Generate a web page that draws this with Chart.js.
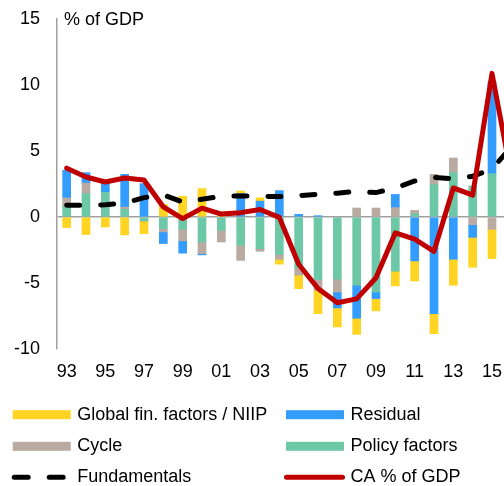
<!DOCTYPE html>
<html><head><meta charset="utf-8">
<script src="https://cdn.jsdelivr.net/npm/chart.js@4.4.1/dist/chart.umd.min.js"></script>
<style>
html,body{margin:0;padding:0;overflow:hidden;background:#fff;width:504px;height:486px;}
#wrap{position:absolute;left:0;top:0;width:521px;height:486px;}
canvas{display:block;}
</style></head><body>
<div id="wrap"><canvas id="c" width="521" height="486" style="width:521px;height:486px"></canvas></div>
<script>
// Categories (1993-2016; the 2016 point is cut off at the right edge of the picture)
const years = ['93','94','95','96','97','98','99','00','01','02','03','04','05','06','07','08','09','10','11','12','13','14','15','16'];
const yTicks = [-10, -5, 0, 5, 10, 15];

// Series values, % of GDP
const globalFin = [-0.8,-1.33,-0.76,-1.36,-0.96,0.96,1.57,2.15,0.4,0.2,0.25,-0.36,-1.03,-1.77,-1.44,-1.22,-0.93,-1.11,-1.52,-1.52,-1.97,-2.27,-2.22,null];
const residual  = [2.1,0.79,0.7,2.48,2.53,-0.88,-0.93,-0.1,0,1.77,1.2,2.0,0.2,0.1,-1.21,-2.5,-0.5,1.0,-3.33,-7.32,-3.2,-0.96,7.0,null];
const cycle     = [0.61,0.8,0,0.17,0,-0.25,-0.88,-0.88,-0.88,-1.14,-0.2,-0.38,-0.55,-0.8,-0.96,0.68,0.68,0.71,0.25,0.78,1.11,-0.58,-0.93,null];
const policy    = [0.83,1.77,1.85,0.58,-0.3,-0.88,-0.93,-1.89,-1.0,-2.15,-2.4,-2.83,-3.85,-4.75,-4.72,-5.17,-5.68,-4.11,0.25,2.45,3.36,2.35,3.28,null];
const fundamentals = [0.89,0.9,0.92,1.06,1.47,1.68,1.14,1.34,1.57,1.59,1.57,1.55,1.62,1.72,1.8,1.95,1.85,2.2,2.73,3.0,2.9,3.08,3.65,5.3];
const caGdp     = [3.7,3.03,2.65,2.95,2.8,0.76,-0.12,0.67,0.22,0.33,0.57,-0.03,-3.58,-5.42,-6.5,-6.2,-4.6,-1.2,-1.68,-2.6,2.2,1.66,10.88,3.1];

const legendOrder = ['Global fin. factors / NIIP','Residual','Cycle','Policy factors','Fundamentals','CA % of GDP'];

const FONT = "'Liberation Sans', Arial, sans-serif";
const AXIS_GREY = '#a0a0a0';

const overlayPlugin = {
  id: 'overlay',
  afterDraw(chart) {
    const ctx = chart.ctx;
    ctx.save();
    // axis title inside the plot
    ctx.fillStyle = '#000';
    ctx.font = '18px ' + FONT;
    ctx.textBaseline = 'middle';
    ctx.textAlign = 'left';
    ctx.fillText('% of GDP', 64, 20);

    // legend in two columns
    const colX = [12.7, 286];
    const rowY = [414.7, 446.3, 477.3];
    legendOrder.forEach((name, i) => {
      const ds = chart.data.datasets.find(d => d.label === name);
      const x = colX[i % 2];
      const y = rowY[Math.floor(i / 2)];
      if (ds.type === 'line') {
        ctx.strokeStyle = ds.borderColor;
        ctx.lineWidth = 5;
        ctx.lineCap = 'round';
        ctx.beginPath();
        if (ds.borderDash) {
          ctx.moveTo(x + 1.5, y); ctx.lineTo(x + 15.5, y);
          ctx.moveTo(x + 36.5, y); ctx.lineTo(x + 50.5, y);
        } else {
          ctx.moveTo(x + 0.5, y); ctx.lineTo(x + 56.5, y);
        }
        ctx.stroke();
      } else {
        ctx.fillStyle = ds.backgroundColor;
        ctx.fillRect(x, y - 4.5, 58, 9);
      }
      ctx.fillStyle = '#000';
      ctx.textAlign = 'left';
      ctx.textBaseline = 'middle';
      ctx.fillText(name, x + 64.5, y);
    });
    ctx.restore();
  }
};

new Chart(document.getElementById('c'), {
  data: {
    labels: years,
    datasets: [
      { type: 'line', label: 'CA % of GDP', data: caGdp, stack: 'ca',
        borderColor: '#c00000', borderWidth: 5, pointRadius: 0, tension: 0,
        borderJoinStyle: 'round', borderCapStyle: 'round', fill: false },
      { type: 'line', label: 'Fundamentals', data: fundamentals, stack: 'fund',
        borderColor: '#000000', borderWidth: 5, borderDash: [13, 21], borderCapStyle: 'round',
        pointRadius: 0, tension: 0, fill: false },
      { type: 'bar', label: 'Policy factors', data: policy, stack: 'bars', backgroundColor: '#6dc8a8', barThickness: 8 },
      { type: 'bar', label: 'Cycle', data: cycle, stack: 'bars', backgroundColor: '#b9aaa2', barThickness: 8 },
      { type: 'bar', label: 'Residual', data: residual, stack: 'bars', backgroundColor: '#339cff', barThickness: 8 },
      { type: 'bar', label: 'Global fin. factors / NIIP', data: globalFin, stack: 'bars', backgroundColor: '#ffd422', barThickness: 8 }
    ]
  },
  options: {
    responsive: false,
    animation: false,
    events: [],
    layout: { padding: { top: 19, right: 0, bottom: 97, left: 0 } },
    plugins: { legend: { display: false }, tooltip: { enabled: false }, title: { display: false } },
    scales: {
      x: {
        stacked: true,
        offset: true,
        grid: { display: false, drawTicks: false },
        border: { display: false },
        ticks: {
          autoSkip: false, maxRotation: 0, minRotation: 0, padding: 12,
          color: '#000', font: { size: 18, family: FONT },
          callback: (v, i) => (i % 2 === 0 ? years[i] : '')
        },
        afterFit: s => { s.height = 40; s.paddingLeft = 0; s.paddingRight = 0; }
      },
      y: {
        stacked: true,
        min: -10, max: 15,
        afterBuildTicks: s => { s.ticks = yTicks.map(v => ({ value: v })); },
        grid: {
          drawTicks: false,
          color: c => (c.tick && c.tick.value === 0 ? AXIS_GREY : 'rgba(0,0,0,0)'),
          lineWidth: 1.5
        },
        border: { display: true, color: AXIS_GREY, width: 1.5 },
        ticks: { padding: 17, color: '#000', font: { size: 18, family: FONT } },
        afterFit: s => { s.width = 57; s.paddingTop = 0; s.paddingBottom = 0; }
      }
    }
  },
  plugins: [overlayPlugin]
});
</script>
</body></html>
